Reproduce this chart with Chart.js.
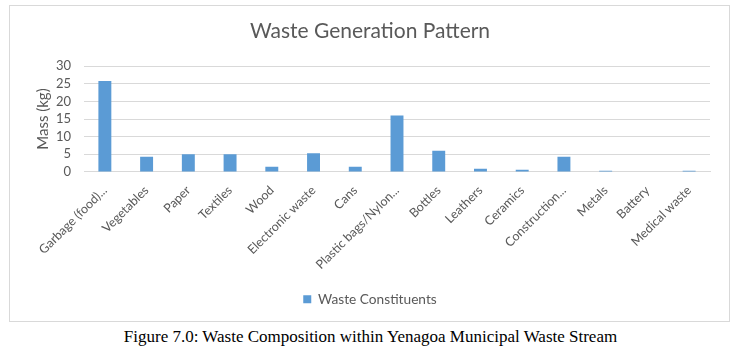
<!DOCTYPE html>
<html lang="en">
<head>
  <meta charset="UTF-8">
  <title>Waste Generation Pattern</title>
  <script src="https://cdn.jsdelivr.net/npm/chart.js"></script>
  <style>
    body {
      margin: 0;
      background: #fff;
      width: 743px;
      height: 351px;
      position: relative;
      overflow: hidden;
    }
    .box {
      position: absolute;
      left: 9px;
      top: 5px;
      width: 719px;
      height: 315px;
      border: 1px solid #d9d9d9;
    }
    .caption {
      position: absolute;
      left: 0;
      width: 741px;
      top: 327px;
      text-align: center;
      font-family: 'Liberation Serif', 'Times New Roman', serif;
      font-size: 17px;
      color: #000;
    }
  </style>
</head>
<body>
  <div class="box">
    <canvas id="wasteChart" width="719" height="315"></canvas>
  </div>
  <div class="caption">Figure 7.0: Waste Composition within Yenagoa Municipal Waste Stream</div>

  <script>
    // data
    const categories = [
      'Garbage (food)...', 'Vegetables', 'Paper', 'Textiles', 'Wood',
      'Electronic waste', 'Cans', 'Plastic bags/Nylon...', 'Bottles', 'Leathers',
      'Ceramics', 'Construction...', 'Metals', 'Battery', 'Medical waste'
    ];
    const massKg = [25.8, 4.3, 5.0, 5.0, 1.5, 5.3, 1.5, 16.0, 6.0, 0.9, 0.6, 4.3, 0.3, 0, 0.3];
    const yTicks = [0, 5, 10, 15, 20, 25, 30];

    const textColor = '#595959';
    const fontFamily = "Lato, 'Open Sans', sans-serif";

    new Chart(document.getElementById('wasteChart'), {
      type: 'bar',
      data: {
        labels: categories,
        datasets: [{
          label: 'Waste Constituents',
          data: massKg,
          backgroundColor: '#5b9bd5',
          borderWidth: 0,
          barPercentage: 0.31,
          categoryPercentage: 1
        }]
      },
      options: {
        responsive: false,
        animation: false,
        layout: {
          // rotated first label is allowed to hang past the plot edge
          autoPadding: false,
          padding: { left: 20, right: 19, top: 0, bottom: 5 }
        },
        plugins: {
          title: {
            display: true,
            text: 'Waste Generation Pattern',
            color: textColor,
            font: { family: fontFamily, size: 21, weight: 'normal' },
            padding: { top: 13, bottom: 22 }
          },
          legend: {
            position: 'bottom',
            labels: {
              color: textColor,
              font: { family: fontFamily, size: 13.7 },
              boxWidth: 8,
              boxHeight: 8,
              padding: 10
            }
          },
          tooltip: { enabled: false }
        },
        scales: {
          x: {
            grid: { display: false },
            border: { color: '#d9d9d9' },
            afterFit: axis => {
              axis.paddingLeft = 0;
              axis.paddingRight = 0;
              axis.height += 7;
            },
            ticks: {
              color: textColor,
              font: { family: fontFamily, size: 12.5 },
              maxRotation: 45,
              minRotation: 45,
              autoSkip: false
            }
          },
          y: {
            min: 0,
            max: 30,
            afterBuildTicks: axis => {
              axis.ticks = yTicks.map(v => ({ value: v }));
            },
            afterFit: axis => { axis.width = 54; },
            grid: { color: '#d9d9d9', drawTicks: false },
            border: { display: false },
            ticks: {
              color: textColor,
              font: { family: fontFamily, size: 13 },
              padding: 13,
              autoSkip: false
            },
            title: {
              display: true,
              text: 'Mass (kg)',
              color: textColor,
              font: { family: fontFamily, size: 15 }
            }
          }
        }
      }
    });
  </script>
</body>
</html>
